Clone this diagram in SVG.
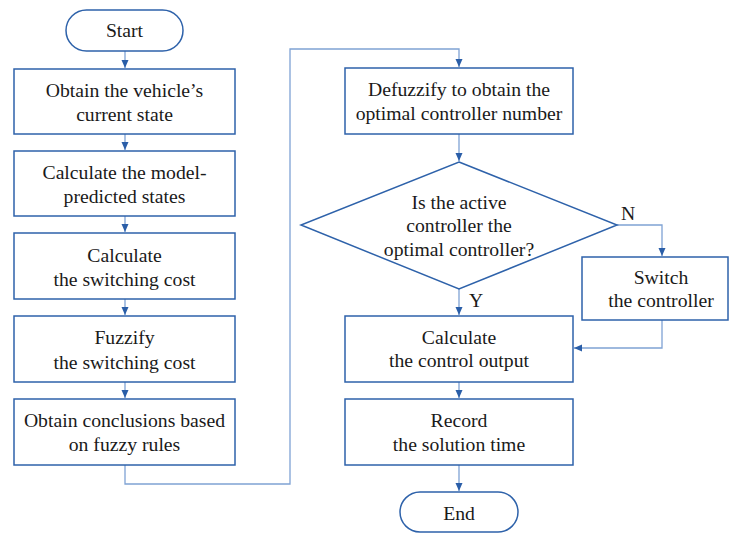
<svg xmlns="http://www.w3.org/2000/svg" width="730" height="534" viewBox="0 0 730 534">
<defs>
<marker id="ah" viewBox="0 0 8 8" refX="8" refY="4" markerWidth="8" markerHeight="8" markerUnits="userSpaceOnUse" orient="auto">
<path d="M0,0.5 L8,4 L0,7.5 Z" fill="#2a5ea8"/>
</marker>
<style>
.b{fill:#fff;stroke:#2e62aa;stroke-width:1.5}
text{font-family:'Liberation Serif','Tinos','DejaVu Serif',serif;font-size:19.7px;fill:#1a1a1a;text-anchor:middle}
.c{fill:none;stroke:#7fa2d4;stroke-width:1.3}
</style>
</defs>
<rect width="730" height="534" fill="#fff"/>
<g id="connectors">
<path class="c" d="M125,51 V68" marker-end="url(#ah)"/>
<path class="c" d="M125,134 V150" marker-end="url(#ah)"/>
<path class="c" d="M125,216 V232" marker-end="url(#ah)"/>
<path class="c" d="M125,299 V315" marker-end="url(#ah)"/>
<path class="c" d="M125,382 V398" marker-end="url(#ah)"/>
<path class="c" d="M125,465 V484 H290 V49 H459 V67" marker-end="url(#ah)"/>
<path class="c" d="M459,134 V161" marker-end="url(#ah)"/>
<path class="c" d="M617,225 H662 V256" marker-end="url(#ah)"/>
<path class="c" d="M459,289 V315" marker-end="url(#ah)"/>
<path class="c" d="M662,320 V348 H574" marker-end="url(#ah)"/>
<path class="c" d="M459,382 V398" marker-end="url(#ah)"/>
<path class="c" d="M459,465 V491" marker-end="url(#ah)"/>
<text x="628" y="220">N</text>
<text x="476" y="307">Y</text>
</g>
<g id="start">
<rect class="b" x="66" y="10" width="117" height="41" rx="20.5"/>
<text x="124.5" y="37">Start</text>
</g>
<g id="obtain-state">
<rect class="b" x="14" y="69" width="221" height="65"/>
<text x="124.5" y="97">Obtain the vehicle’s</text>
<text x="124.5" y="121">current state</text>
</g>
<g id="predict">
<rect class="b" x="14" y="151" width="221" height="65"/>
<text x="124.5" y="179">Calculate the model-</text>
<text x="124.5" y="203">predicted states</text>
</g>
<g id="switch-cost">
<rect class="b" x="14" y="233" width="221" height="66"/>
<text x="124.5" y="262">Calculate</text>
<text x="124.5" y="286">the switching cost</text>
</g>
<g id="fuzzify">
<rect class="b" x="14" y="316" width="221" height="66"/>
<text x="124.5" y="344">Fuzzify</text>
<text x="124.5" y="369">the switching cost</text>
</g>
<g id="conclusions">
<rect class="b" x="14" y="399" width="221" height="66"/>
<text x="124.5" y="427">Obtain conclusions based</text>
<text x="124.5" y="451">on fuzzy rules</text>
</g>
<g id="defuzzify">
<rect class="b" x="345" y="68" width="228" height="66"/>
<text x="459" y="96">Defuzzify to obtain the</text>
<text x="459" y="120">optimal controller number</text>
</g>
<g id="decision">
<polygon class="b" points="459,162 617,225 459,289 301,225"/>
<text x="459" y="209">Is the active</text>
<text x="459" y="232">controller the</text>
<text x="459" y="256">optimal controller?</text>
</g>
<g id="switch-controller">
<rect class="b" x="582" y="257" width="146" height="63"/>
<text x="661" y="284">Switch</text>
<text x="661" y="307">the controller</text>
</g>
<g id="control-output">
<rect class="b" x="345" y="316" width="228" height="66"/>
<text x="459" y="344">Calculate</text>
<text x="459" y="367">the control output</text>
</g>
<g id="record">
<rect class="b" x="345" y="399" width="228" height="66"/>
<text x="459" y="427">Record</text>
<text x="459" y="451">the solution time</text>
</g>
<g id="end">
<rect class="b" x="400" y="492" width="118" height="40" rx="20"/>
<text x="459" y="520">End</text>
</g>
</svg>
